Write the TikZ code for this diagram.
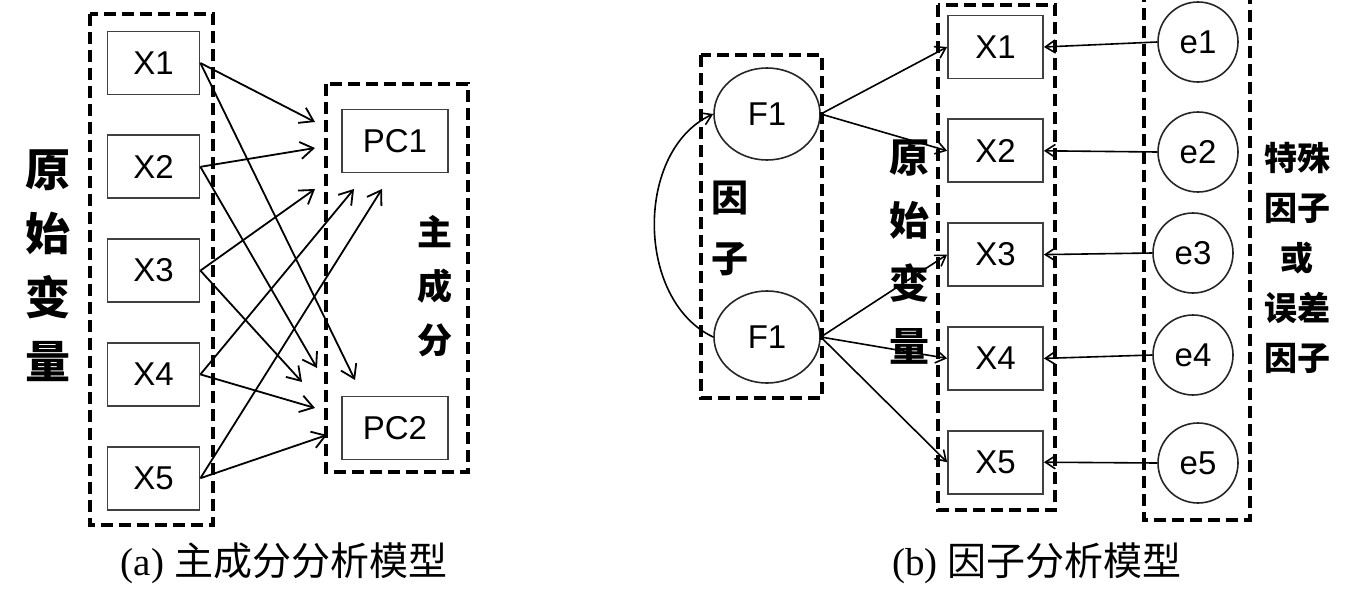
\documentclass[tikz,border=0pt]{standalone}
\usepackage{fontspec}
\setmainfont{Liberation Serif}
\newfontfamily\labelfont{Liberation Sans}
\newfontfamily\cjkfont{Noto Sans CJK SC}
\usetikzlibrary{positioning,arrows.meta,shapes.geometric}

\tikzset{
  var/.style={draw=black!75, line width=1.8pt, minimum width=92pt, minimum height=63pt,
    inner sep=0pt, font=\labelfont\fontsize{33}{33}\selectfont},
  pcbox/.style={var, minimum width=106pt},
  fac/.style={ellipse, draw=black!85, line width=1.6pt, minimum width=106pt, minimum height=92pt,
    inner sep=0pt, font=\labelfont\fontsize{33}{33}\selectfont},
  err/.style={circle, draw=black!85, line width=1.6pt, minimum size=80pt,
    inner sep=0pt, font=\labelfont\fontsize{33}{33}\selectfont},
  group/.style={draw, line width=3.5pt, dash pattern=on 12pt off 6pt},
  link/.style={line width=1.8pt, -{Straight Barb[length=13pt,width=17pt,line width=1.8pt]}},
  thinlink/.style={line width=1.6pt, -{Straight Barb[length=10pt,width=13pt,line width=1.6pt]}},
  cjklab/.style={align=center, inner sep=0pt},
}

\begin{document}
\begin{tikzpicture}[x=1pt, y=-1pt]
  \useasboundingbox (0,0) rectangle (1354,613);

  % (a) principal component model
  \node[var] (x1) at (153.5,63) {X1};
  \node[var, below=39pt of x1] (x2) {X2};
  \node[var, below=39pt of x2] (x3) {X3};
  \node[var, below=39pt of x3] (x4) {X4};
  \node[var, below=39pt of x4] (x5) {X5};
  \draw[group] (90,14) rectangle (213,525);

  \node[pcbox] (pc1) at (395,141) {PC1};
  \node[pcbox] (pc2) at (395,428) {PC2};
  \draw[group] (326,84) rectangle (468,472);

  \node[cjklab, font=\cjkfont\bfseries\fontsize{45}{64}\selectfont] (orig) at (48,266) {原\\始\\变\\量};
  \node[cjklab, font=\cjkfont\bfseries\fontsize{35}{54}\selectfont] (pcname) at (435,286) {主\\成\\分};

  \coordinate (a11) at (315,122);
  \coordinate (a12) at (355,380);
  \coordinate (a21) at (315,148);
  \coordinate (a22) at (317,368);
  \coordinate (a31) at (315,189);
  \coordinate (a32) at (302,382);
  \coordinate (a41) at (354,189);
  \coordinate (a42) at (315,408);
  \coordinate (a51) at (382,189);
  \coordinate (a52) at (327,435);
  \draw[link] (x1.east) -- (a11);
  \draw[link] (x1.east) -- (a12);
  \draw[link] (x2.east) -- (a21);
  \draw[link] (x2.east) -- (a22);
  \draw[link] (x3.east) -- (a31);
  \draw[link] (x3.east) -- (a32);
  \draw[link] (x4.east) -- (a41);
  \draw[link] (x4.east) -- (a42);
  \draw[link] (x5.east) -- (a51);
  \draw[link] (x5.east) -- (a52);

  \node (capa) at (284,563) {\fontsize{39}{39}\selectfont (a) {\cjkfont 主成分分析模型}};

  % (b) factor model
  \node[fac] (f1) at (767,114) {F1};
  \node[fac] (f2) at (767,337) {F1};
  \draw[group] (701,55) rectangle (822,398);
  \node[cjklab, font=\cjkfont\bfseries\fontsize{37}{61}\selectfont] (fname) at (730,228) {因\\子};

  \node[var, minimum width=95pt] (r1) at (995.5,47) {X1};
  \node[var, minimum width=95pt, below=39pt of r1] (r2) {X2};
  \node[var, minimum width=95pt, below=39pt of r2] (r3) {X3};
  \node[var, minimum width=95pt, below=39pt of r3] (r4) {X4};
  \node[var, minimum width=95pt, below=39pt of r4] (r5) {X5};
  \draw[group] (938,5) rectangle (1055,510);
  \node[cjklab, font=\cjkfont\bfseries\fontsize{40}{63}\selectfont] (rorig) at (909,252) {原\\始\\变\\量};

  \node[err] (e1) at (1198,42) {e1};
  \node[err] (e2) at (1198,152) {e2};
  \node[err] (e3) at (1193,253) {e3};
  \node[err] (e4) at (1193,355) {e4};
  \node[err] (e5) at (1198,463) {e5};
  \draw[group] (1144,-10) rectangle (1250,520);
  \node[cjklab, font=\cjkfont\bfseries\fontsize{33}{50}\selectfont] (ename) at (1297,258) {特殊\\因子\\或\\误差\\因子};

  \draw[thinlink] (f1.east) -- (r1.west);
  \draw[thinlink] (f1.east) -- (r2.west);
  \draw[thinlink] (f2.east) -- (r3.west);
  \draw[thinlink] (f2.east) -- (r4.west);
  \draw[thinlink] (f2.east) -- (r5.west);
  \draw[thinlink, {Straight Barb[length=10pt,width=13pt,line width=1.6pt]}-] (f1.west) .. controls (635,150) and (635,300) .. (f2.west);

  \draw[thinlink] (e1.west) -- (r1.east);
  \draw[thinlink] (e2.west) -- (r2.east);
  \draw[thinlink] (e3.west) -- (r3.east);
  \draw[thinlink] (e4.west) -- (r4.east);
  \draw[thinlink] (e5.west) -- (r5.east);

  \node (capb) at (1037,563) {\fontsize{39}{39}\selectfont (b) {\cjkfont 因子分析模型}};
\end{tikzpicture}
\end{document}
